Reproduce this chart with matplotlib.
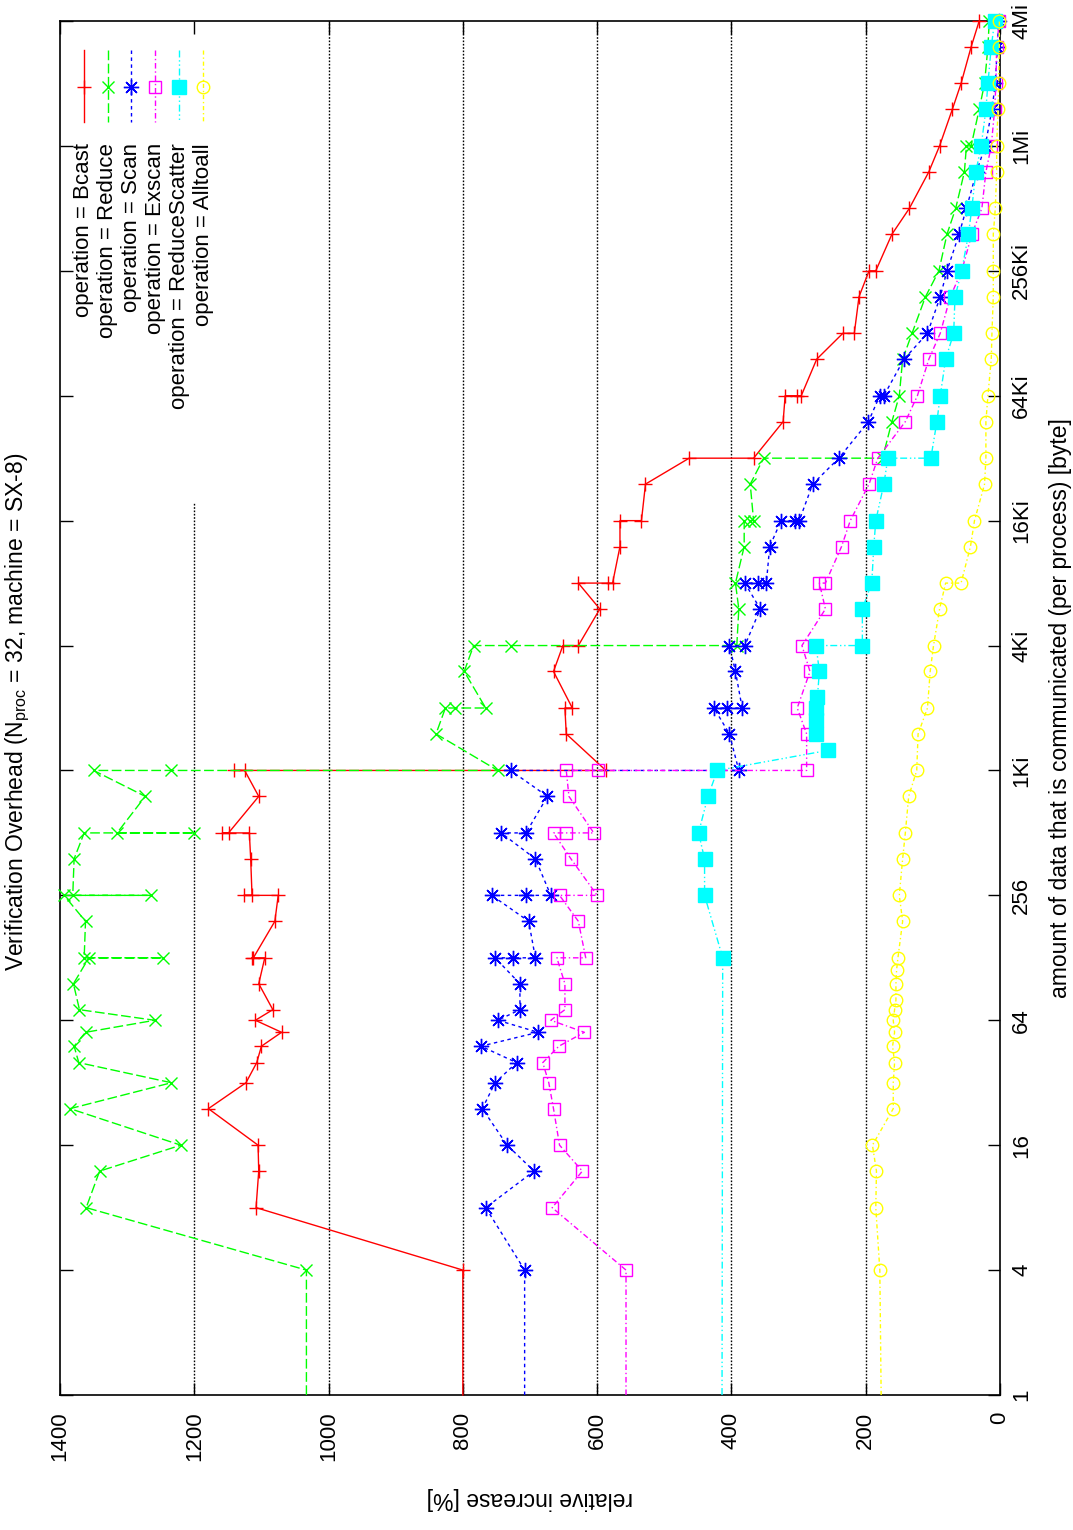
import matplotlib
matplotlib.use('Agg')
import matplotlib.pyplot as plt
from matplotlib.ticker import FixedLocator, FixedFormatter, NullLocator

plt.rcParams['font.family'] = ['Liberation Sans', 'DejaVu Sans']
plt.rcParams['mathtext.fontset'] = 'custom'
plt.rcParams['mathtext.rm'] = 'Liberation Sans'
plt.rcParams['mathtext.it'] = 'Liberation Sans:italic'

# ---------------- data ----------------
bcast_size = [1, 4, 8, 12, 16, 24, 32, 40, 48, 56, 64, 72, 96, 128, 128, 128, 192, 256, 256, 256,
              384, 512, 512, 512, 768, 1024, 1024, 1024, 1536, 2048, 2048, 3072, 4096, 4096, 6144,
              8192, 8192, 8192, 12288, 16384, 16384, 24576, 32768, 32768, 49152, 65536, 65536, 65536,
              98304, 131072, 131072, 196608, 262144, 262144, 393216, 524288, 786432, 1048576,
              1572864, 2097152, 3145728, 4194304]
bcast_val = [800, 800, 1108, 1104, 1105, 1179, 1123, 1107, 1100, 1070, 1109, 1083, 1104, 1095, 1114, 1112,
             1080, 1075, 1126, 1114, 1116, 1118, 1158, 1149, 1104, 1125, 1141, 587, 646, 648, 637, 665,
             651, 628, 596, 628, 584, 577, 566, 566, 534, 528, 463, 367, 323, 320, 302, 296, 273, 234,
             217, 210, 195, 185, 161, 135, 106, 90, 71, 58, 43, 31]

reduce_size = [1, 4, 8, 12, 16, 24, 32, 40, 48, 56, 64, 72, 96, 128, 128, 128, 192, 256, 256, 256,
               384, 512, 512, 512, 768, 1024, 1024, 1024, 1536, 2048, 2048, 2048, 3072, 4096, 4096,
               4096, 6144, 8192, 12288, 16384, 16384, 16384, 24576, 32768, 32768, 49152, 65536, 98304,
               131072, 196608, 262144, 393216, 524288, 786432, 1048576, 1048576, 1572864, 2097152,
               3145728, 4194304]
reduce_val = [1033, 1033, 1361, 1341, 1220, 1385, 1234, 1372, 1379, 1362, 1259, 1371, 1380, 1357, 1247,
              1364, 1362, 1394, 1264, 1381, 1379, 1364, 1200, 1315, 1273, 1350, 1234, 748, 840, 826,
              812, 766, 798, 784, 729, 392, 389, 394, 381, 381, 372, 367, 372, 352, 175, 161, 150, 145,
              131, 111, 91, 79, 66, 53, 50, 43, 31, 23, 18, 16]

scan_size = [1, 4, 8, 12, 16, 24, 32, 40, 48, 56, 64, 72, 96, 128, 128, 128, 192, 256, 256, 256,
             384, 512, 512, 768, 1024, 1024, 1536, 2048, 2048, 2048, 3072, 4096, 4096, 6144, 8192,
             8192, 8192, 12288, 16384, 16384, 16384, 24576, 32768, 49152, 65536, 65536, 98304, 131072,
             196608, 262144, 393216, 524288, 786432, 1048576, 1572864, 2097152, 3145728, 4194304]
scan_val = [708, 708, 766, 694, 734, 771, 752, 720, 773, 688, 748, 715, 715, 752, 725, 692, 702, 757,
            706, 669, 692, 743, 706, 674, 729, 389, 403, 426, 407, 384, 394, 403, 380, 357, 380, 361,
            348, 343, 326, 305, 299, 279, 240, 196, 179, 173, 143, 108, 89, 79, 61, 50, 35, 22, 12, 7,
            4, 2]

exscan_size = [1, 4, 8, 12, 16, 24, 32, 40, 48, 56, 64, 72, 96, 128, 128, 192, 256, 256, 384, 512,
               512, 512, 768, 1024, 1024, 1024, 1536, 2048, 3072, 4096, 6144, 8192, 8192, 12288,
               16384, 24576, 32768, 49152, 65536, 98304, 131072, 196608, 262144, 393216, 524288,
               786432, 1048576, 1572864, 2097152, 3145728, 4194304]
exscan_val = [557, 557, 667, 622, 656, 665, 672, 681, 657, 619, 669, 648, 648, 660, 617, 628, 656, 600,
              639, 665, 646, 605, 642, 646, 598, 288, 288, 302, 283, 295, 260, 269, 260, 236, 223, 195,
              182, 141, 123, 106, 89, 74, 57, 42, 27, 21, 13, 8, 6, 5, 1]

rscat_size = [1, 128, 256, 384, 512, 768, 1024, 1280, 1536, 1792, 2048, 2304, 3072, 4096, 4096, 6144,
              8192, 12288, 16384, 24576, 32768, 32768, 49152, 65536, 98304, 131072, 196608, 262144,
              393216, 524288, 786432, 1048576, 1572864, 2097152, 3145728, 4194304]
rscat_val = [414, 413, 440, 440, 449, 435, 421, 256, 274, 274, 274, 272, 269, 274, 205, 205, 191, 188,
             185, 173, 167, 103, 94, 89, 81, 69, 67, 57, 47, 42, 36, 28, 21, 18, 13, 8]

alltoall_size = [1, 4, 8, 12, 16, 24, 32, 40, 48, 56, 64, 72, 80, 96, 112, 128, 192, 256, 384, 512,
                 768, 1024, 1536, 2048, 3072, 4096, 6144, 8192, 8192, 12288, 16384, 24576, 32768,
                 49152, 65536, 98304, 131072, 196608, 262144, 393216, 524288, 786432, 1048576,
                 1572864, 2097152, 3145728, 4194304]
alltoall_val = [177, 179, 185, 184, 190, 159, 159, 157, 160, 157, 159, 157, 155, 155, 154, 152, 145, 150,
                145, 141, 136, 124, 122, 108, 104, 99, 90, 81, 58, 44, 38, 23, 21, 21, 18, 13, 12, 10,
                10, 10, 7, 5, 5, 3, 2, 1, 1]

series_labels = ['operation = Bcast', 'operation = Reduce', 'operation = Scan',
                 'operation = Exscan', 'operation = ReduceScatter', 'operation = Alltoall']

size_ticks = [1, 4, 16, 64, 256, 1024, 4096, 16384, 65536, 262144, 1048576, 4194304]
size_tick_labels = ['1', '4', '16', '64', '256', '1Ki', '4Ki', '16Ki', '64Ki', '256Ki', '1Mi', '4Mi']
value_ticks = [0, 200, 400, 600, 800, 1000, 1200, 1400]
value_tick_labels = ['0', '200', '400', '600', '800', '1000', '1200', '1400']

title_text = 'Verification Overhead (N$_{\\mathrm{proc}}$ = 32, machine = SX-8)'
value_label = 'relative increase [%]'
size_label = 'amount of data that is communicated (per process) [byte]'

# ---------------- styles ----------------
styles = [
    dict(color='#ff0000', ls='-', marker='+', ms=10, mfc='#ff0000'),
    dict(color='#00ff00', ls=(0, (7, 2.5)), marker='x', ms=9, mfc='#00ff00'),
    dict(color='#0000ff', ls=(0, (2.5, 2.5)), marker=(8, 2, 0), ms=11, mfc='#0000ff'),
    dict(color='#ff00ff', ls=(0, (4, 2, 1, 2)), marker='s', ms=9, mfc='none'),
    dict(color='#00ffff', ls=(0, (5, 2, 1, 2, 1, 2)), marker='s', ms=10, mfc='#00ffff'),
    dict(color='#ffff00', ls=(0, (3, 2, 1, 2)), marker='o', ms=9, mfc='none'),
]
all_series = [(bcast_size, bcast_val), (reduce_size, reduce_val), (scan_size, scan_val),
              (exscan_size, exscan_val), (rscat_size, rscat_val), (alltoall_size, alltoall_val)]

W, H = 1073, 1530
fig = plt.figure(figsize=(W / 100, H / 100), dpi=100, facecolor='white')
L, R, T, B = 60, 1000, 21, 1395
ax = fig.add_axes([L / W, 1 - B / H, (R - L) / W, (B - T) / H])

ax.set_xlim(1400, 0)
ax.set_yscale('log', base=2)
ax.set_ylim(1, 4194304)

# grid (dotted, only at value ticks; the 1200 line is hidden behind the key)
for v in [200, 400, 600, 800, 1000]:
    ax.axvline(v, color='black', ls=(0, (1.2, 1.2)), lw=1.0, zorder=0.5)
ax.axvline(1200, ymin=0, ymax=(B - 503) / (B - T), color='black', ls=(0, (1.2, 1.2)), lw=1.0, zorder=0.5)

for (sz, vals), st in zip(all_series, styles):
    ax.plot(vals, sz, color=st['color'], ls=st['ls'], lw=1.0, marker=st['marker'],
            ms=st['ms'], mfc=st['mfc'], mec=st['color'], mew=1.0,
            markevery=list(range(1, len(sz))), clip_on=False, zorder=3)

# ticks
ax.xaxis.set_major_locator(FixedLocator(value_ticks))
ax.xaxis.set_major_formatter(FixedFormatter(value_tick_labels))
ax.yaxis.set_major_locator(FixedLocator(size_ticks))
ax.yaxis.set_major_formatter(FixedFormatter(size_tick_labels))
ax.yaxis.set_minor_locator(NullLocator())
ax.xaxis.set_minor_locator(NullLocator())
ax.tick_params(axis='both', which='major', direction='in', length=9, width=1.0,
               top=True, bottom=True, left=True, right=True, labelsize=16, colors='black')
ax.tick_params(axis='y', labelleft=False, labelright=True, labelrotation=90, pad=8)
ax.tick_params(axis='x', labelrotation=90, pad=12)
for lab in ax.get_yticklabels():
    lab.set_va('center')
for sp in ax.spines.values():
    sp.set_linewidth(1.2)

# axis labels
ax.set_xlabel(value_label, fontsize=16.5, rotation=180)
ax.xaxis.set_label_coords(0.5, -(1487 - B) / (B - T))
ax.yaxis.set_label_position('right')
ax.set_ylabel(size_label, fontsize=16.5, rotation=90)
ax.yaxis.set_label_coords((1049 - L) / (R - L), 0.5)

# title (rotated)
fig.text(18 / W, 1 - 712 / H, title_text, rotation=90, ha='center', va='center', fontsize=16.5)

# key (rotated, drawn manually)
key_x = [84, 108, 131, 155, 179, 203]
for kx, st, lab in zip(key_x, styles, series_labels):
    fx = (kx - L) / (R - L)
    y0 = (B - 50) / (B - T)
    y1 = (B - 122) / (B - T)
    ym = (B - 87) / (B - T)
    ax.plot([fx, fx], [y0, y1], transform=ax.transAxes, color=st['color'], ls=st['ls'], lw=1.0,
            clip_on=False, zorder=4)
    ax.plot([fx], [ym], transform=ax.transAxes, color=st['color'], marker=st['marker'], ms=st['ms'],
            mfc=st['mfc'], mec=st['color'], mew=1.0, ls='none', clip_on=False, zorder=4)
    ax.text(fx, (B - 143) / (B - T), lab, transform=ax.transAxes, rotation=90,
            ha='center', va='top', fontsize=16)

fig.savefig('out.png', dpi=100, facecolor='white')
